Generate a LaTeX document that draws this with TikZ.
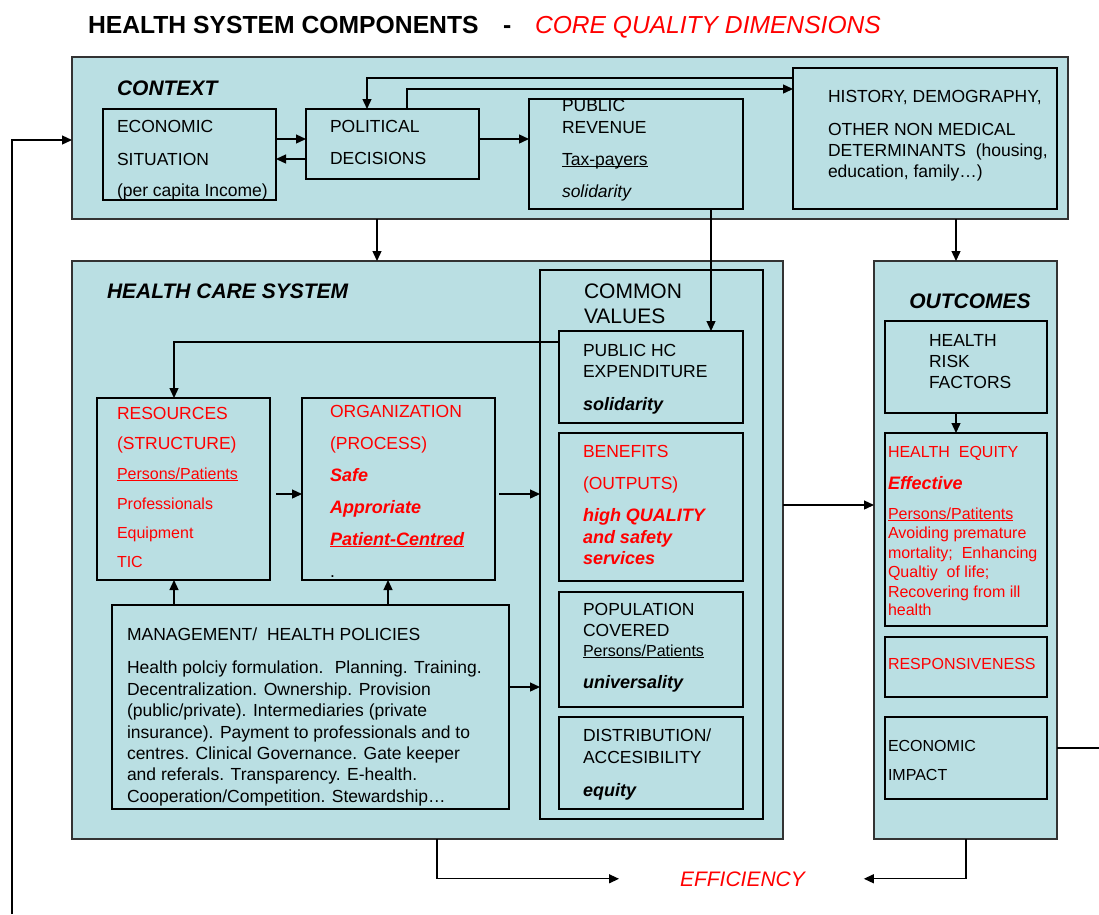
\documentclass[tikz,border=0pt]{standalone}
\usepackage{fontspec}
\setmainfont{Liberation Sans}
\usetikzlibrary{arrows.meta}
\definecolor{bgc}{RGB}{186,223,227}
\definecolor{myred}{RGB}{255,0,0}
\newcommand{\myul}[1]{\underline{\smash{#1}}}
\newcommand{\fA}{\fontsize{17.5}{21}\selectfont}
\newcommand{\fB}{\fontsize{16}{19}\selectfont}
\newcommand{\fBI}{\fontsize{18}{21}\selectfont\bfseries\itshape}
\newcommand{\fH}{\fontsize{21}{25}\selectfont}
\tikzset{
  box/.style={draw=black, fill=bgc, line width=1.7pt, inner sep=0pt, outer sep=0pt, anchor=north west},
  outerbox/.style={box, draw=black!80},
  txt/.style={anchor=base west, inner sep=0pt, outer sep=0pt, font=\fA},
  sm/.style={txt, font=\fB},
  bi/.style={txt, font=\fBI},
  hd/.style={txt, font=\fH\bfseries\itshape},
  rd/.style={text=myred},
  arr/.style={line width=1.3pt, -{Triangle[length=10pt,width=9pt]}},
  ln/.style={line width=1.3pt}
}
\begin{document}
\begin{tikzpicture}[x=1pt,y=-1pt]
\useasboundingbox (0,0) rectangle (1099,914);
% ---------- title ----------
\node[txt, font=\fontsize{24.7}{28}\selectfont\bfseries] (title1) at (88,33) {HEALTH SYSTEM COMPONENTS};
\node[txt, font=\fontsize{24.7}{28}\selectfont\bfseries] (title2) at (503,33) {-};
\node[txt, rd, font=\fontsize{24.6}{28}\selectfont\itshape] (title3) at (535,33) {CORE QUALITY DIMENSIONS};
% ---------- boxes ----------
\node[outerbox, minimum width=996, minimum height=162] (ctx) at (72,57) {};
\node[box, minimum width=173, minimum height=91] (eco) at (103,109) {};
\node[box, minimum width=173, minimum height=70] (pol) at (306,109) {};
\node[box, minimum width=214, minimum height=110] (pub) at (529,99) {};
\node[box, minimum width=264, minimum height=141] (his) at (793,68) {};
\node[outerbox, minimum width=711, minimum height=578] (hcs) at (72,261) {};
\node[box, minimum width=223, minimum height=549] (cv) at (540,270) {};
\node[box, minimum width=184, minimum height=92] (phc) at (559,331) {};
\node[box, minimum width=184, minimum height=148] (ben) at (559,433) {};
\node[box, minimum width=184, minimum height=115] (pop) at (559,592) {};
\node[box, minimum width=184, minimum height=92] (dis) at (559,717) {};
\node[box, minimum width=173, minimum height=182] (res) at (97,398) {};
\node[box, minimum width=193, minimum height=182] (org) at (302,398) {};
\node[box, minimum width=397, minimum height=204] (man) at (112,605) {};
\node[outerbox, minimum width=183, minimum height=578] (out) at (874,261) {};
\node[box, minimum width=162, minimum height=92] (rsk) at (885,321) {};
\node[box, minimum width=162, minimum height=193] (equ) at (885,433) {};
\node[box, minimum width=162, minimum height=60] (rsp) at (885,637) {};
\node[box, minimum width=162, minimum height=82] (eci) at (885,717) {};
% ---------- context texts ----------
\node[hd] (tctx) at (117,95) {CONTEXT};
\node[txt] (te1) at (117,132) {ECONOMIC};
\node[txt] (te2) at (117,165) {SITUATION};
\node[txt] (te3) at (117,196) {(per capita Income)};
\node[txt] (tp1) at (330,132) {POLITICAL};
\node[txt] (tp2) at (330,164) {DECISIONS};
\node[txt] (tr1) at (562,111) {PUBLIC};
\node[txt] (tr2) at (562,133) {REVENUE};
\node[txt] (tr3) at (562,165) {\myul{Tax-payers}};
\node[txt, font=\fA\itshape] (tr4) at (562,197) {solidarity};
\node[txt] (th1) at (828,102) {HISTORY, DEMOGRAPHY,};
\node[txt] (th2) at (828,135) {OTHER NON MEDICAL};
\node[txt] (th3) at (828,156) {DETERMINANTS~ (housing,};
\node[txt] (th4) at (828,177) {education, family\ldots)};
% ---------- health care system texts ----------
\node[hd] (thcs) at (107,298) {HEALTH CARE SYSTEM};
\node[txt, font=\fH] (tcv1) at (584,298) {COMMON};
\node[txt, font=\fH] (tcv2) at (584,323) {VALUES};
\node[txt] (tph1) at (583,356) {PUBLIC HC};
\node[txt] (tph2) at (583,377) {EXPENDITURE};
\node[bi] (tph3) at (583,410) {solidarity};
\node[txt, rd] (tb1) at (583,457) {BENEFITS};
\node[txt, rd] (tb2) at (583,489) {(OUTPUTS)};
\node[bi, rd] (tb3) at (583,521) {high QUALITY};
\node[bi, rd] (tb4) at (583,543) {and safety};
\node[bi, rd] (tb5) at (583,564) {services};
\node[txt] (tpo1) at (583,615) {POPULATION};
\node[txt] (tpo2) at (583,636) {COVERED};
\node[sm] (tpo3) at (583,656) {\myul{Persons/Patients}};
\node[bi] (tpo4) at (583,688) {universality};
\node[txt] (td1) at (583,741) {DISTRIBUTION/};
\node[txt] (td2) at (583,763) {ACCESIBILITY};
\node[bi] (td3) at (583,796) {equity};
\node[txt, rd] (tre1) at (117,419) {RESOURCES};
\node[txt, rd] (tre2) at (117,449) {(STRUCTURE)};
\node[sm, rd] (tre3) at (117,479) {\myul{Persons/Patients}};
\node[sm, rd] (tre4) at (117,509) {Professionals};
\node[sm, rd] (tre5) at (117,538) {Equipment};
\node[sm, rd] (tre6) at (117,567) {TIC};
\node[txt, rd] (tor1) at (330,417) {ORGANIZATION};
\node[txt, rd] (tor2) at (330,449) {(PROCESS)};
\node[bi, rd] (tor3) at (330,481) {Safe};
\node[bi, rd] (tor4) at (330,513) {Approriate};
\node[bi, rd] (tor5) at (330,545) {\myul{Patient-Centred}};
\node[txt] (tor6) at (330,577) {.};
\node[txt] (tm0) at (127,640) {MANAGEMENT/~~HEALTH POLICIES};
\node[txt] (tm1) at (127,673) {Health polciy formulation.~ Planning. Training.};
\node[txt] (tm2) at (127,695) {Decentralization. Ownership. Provision};
\node[txt] (tm3) at (127,716) {(public/private). Intermediaries (private};
\node[txt] (tm4) at (127,738) {insurance). Payment to professionals and to};
\node[txt] (tm5) at (127,759) {centres. Clinical Governance. Gate keeper};
\node[txt] (tm6) at (127,780) {and referals. Transparency. E-health.};
\node[txt] (tm7) at (127,802) {Cooperation/Competition. Stewardship\ldots};
% ---------- outcomes texts ----------
\node[hd, anchor=base] (tout) at (970,308) {OUTCOMES};
\node[txt] (tk1) at (929,346) {HEALTH};
\node[txt] (tk2) at (929,367) {RISK};
\node[txt] (tk3) at (929,388) {FACTORS};
\node[sm, rd] (tq1) at (888,457) {HEALTH~ EQUITY};
\node[bi, rd] (tq2) at (888,489) {Effective};
\node[sm, rd] (tq3) at (888,519) {\myul{Persons/Patitents}};
\node[sm, rd] (tq4) at (888,538) {Avoiding premature};
\node[sm, rd] (tq5) at (888,558) {mortality;~ Enhancing};
\node[sm, rd] (tq6) at (888,577) {Qualtiy~ of life;};
\node[sm, rd] (tq7) at (888,597) {Recovering from ill};
\node[sm, rd] (tq8) at (888,615) {health};
\node[sm, rd] (tsp) at (888,669) {RESPONSIVENESS};
\node[sm] (tei1) at (888,751) {ECONOMIC};
\node[sm] (tei2) at (888,780) {IMPACT};
\node[txt, rd, font=\fH\itshape] (eff) at (680,886) {EFFICIENCY};
% ---------- connectors ----------
\draw[arr] (eco.east |- 0,139) -- (pol.west |- 0,139);
\draw[arr] (pol.west |- 0,159) -- (eco.east |- 0,159);
\draw[arr] (pol.east |- 0,139) -- (pub.west |- 0,139);
\draw[arr] (his.west |- 0,78) -| (367,0 |- pol.north);
\draw[arr] (407,0 |- pol.north) |- (his.west |- 0,89);
\draw[arr] (377,0 |- ctx.south) -- (377,0 |- hcs.north);
\draw[arr] (956,0 |- ctx.south) -- (956,0 |- out.north);
\draw[arr] (711,0 |- pub.south) -- (711,0 |- phc.north);
\draw[arr] (phc.west |- 0,342) -| (174,0 |- res.north);
\draw[arr] ([xshift=6pt]res.east |- 0,494) -- (org.west |- 0,494);
\draw[arr] ([xshift=4pt]org.east |- 0,494) -- (cv.west |- 0,494);
\draw[arr] (174,0 |- man.north) -- (174,0 |- res.south);
\draw[arr] (388,0 |- man.north) -- (388,0 |- org.south);
\draw[arr] (man.east |- 0,687) -- (cv.west |- 0,687);
\draw[arr] (hcs.east |- 0,505) -- (out.west |- 0,505);
\draw[arr] (956,0 |- rsk.south) -- (956,0 |- equ.north);
\coordinate (rightend) at (1099,748);
\draw[ln] (out.east |- rightend) -- (rightend);
\coordinate (leftend) at (12,914);
\draw[arr] (leftend) |- (ctx.west |- 0,140);
\draw[arr] (437,0 |- hcs.south) |- ([xshift=-61pt]eff.west);
\draw[arr] (966,0 |- out.south) |- ([xshift=59pt]eff.east);
\end{tikzpicture}
\end{document}
